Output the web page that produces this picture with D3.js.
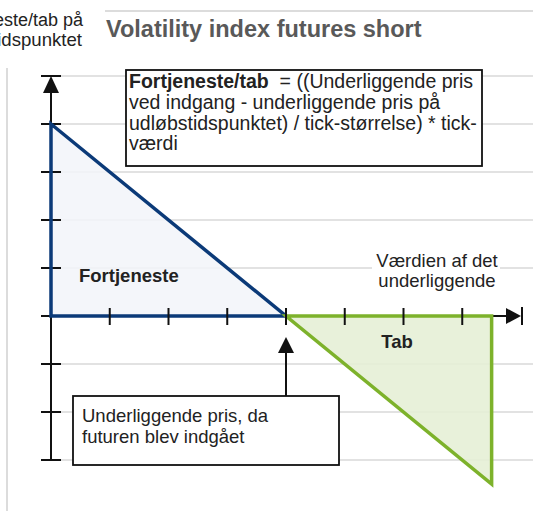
<!DOCTYPE html>
<html>
<head>
<meta charset="utf-8">
<script src="https://cdn.jsdelivr.net/npm/d3@7"></script>
<style>
body{margin:0;background:#fff;}
text{font-family:"Liberation Sans",Arial,sans-serif;fill:#222;}
</style>
</head>
<body>
<div id="chart"></div>
<script>
var w = 533;
var h = 511;

// values in chart units
var xTicks = [1,2,3,4,5,6,7];
var yTicks = [-3,-2,-1,0,1,2,3,4,5];
var gridValues = [-3,-2,-1,1,2,3,4,5];
var profitPts = [[0,4],[4,0],[0,0]];
var lossPts = [[4,0],[7.5,0],[7.5,-3.5]];
var entryPrice = 4;

var title = "Volatility index futures short";
var yLabel = ["Fortjeneste/tab på","udløbstidspunktet"];
var xLabel = ["Værdien af det","underliggende"];
var formulaBold = "Fortjeneste/tab";
var formulaLines = ["  = ((Underliggende pris","ved indgang - underliggende pris på","udløbstidspunktet) / tick-størrelse) * tick-","værdi"];
var calloutLines = ["Underliggende pris, da","futuren blev indgået"];

var xScale = d3.scaleLinear().domain([0,8]).range([51,521]);
var yScale = d3.scaleLinear().domain([-3,5]).range([460,76]);

var svg = d3.select("#chart").append("svg")
  .attr("width", w)
  .attr("height", h);

// frame lines
svg.append("line").attr("x1",7).attr("x2",7).attr("y1",68).attr("y2",h)
  .attr("stroke","#dcdcdc").attr("stroke-width",2);
svg.append("line").attr("x1",105).attr("x2",w).attr("y1",11).attr("y2",11)
  .attr("stroke","#dcdcdc").attr("stroke-width",2);

// grid
svg.selectAll(".grid").data(gridValues).enter().append("line")
  .attr("class","grid")
  .attr("x1", xScale(0)).attr("x2", w)
  .attr("y1", function(d){return yScale(d);})
  .attr("y2", function(d){return yScale(d);})
  .attr("stroke","#d9d9d9").attr("stroke-width",1.6);

// title + y label
svg.append("text").attr("x",106).attr("y",37)
  .style("font-size","23.5px").style("font-weight","bold").style("fill","#595959")
  .text(title);

svg.selectAll(".ylab").data(yLabel).enter().append("text")
  .attr("class","ylab")
  .attr("x",function(d,i){return i ? 82 : 83;})
  .attr("y",function(d,i){return 26+i*20;})
  .attr("text-anchor","end")
  .style("font-size",function(d,i){return i ? "18.6px" : "18px";})
  .text(function(d){return d;});

// payoff areas
var line = d3.line()
  .x(function(d){return xScale(d[0]);})
  .y(function(d){return yScale(d[1]);});

svg.append("path").datum(profitPts)
  .attr("d", function(d){return line(d)+"Z";})
  .attr("fill","#f2f4f9").attr("fill-opacity",0.85)
  .attr("stroke","none");
svg.append("path").datum(lossPts)
  .attr("d", function(d){return line(d)+"Z";})
  .attr("fill","#e6efd6").attr("fill-opacity",0.9)
  .attr("stroke","none");

// axes
var axisColor = "#111";
svg.append("line")
  .attr("x1",xScale(0)).attr("x2",xScale(0))
  .attr("y1",yScale(-3)).attr("y2",yScale(5)+14)
  .attr("stroke",axisColor).attr("stroke-width",2);
svg.append("line")
  .attr("x1",xScale(0)).attr("x2",xScale(8)-14)
  .attr("y1",yScale(0)).attr("y2",yScale(0))
  .attr("stroke",axisColor).attr("stroke-width",2);

svg.selectAll(".ytick").data(yTicks).enter().append("line")
  .attr("class","ytick")
  .attr("x1",xScale(0)-10).attr("x2",xScale(0)+10)
  .attr("y1",function(d){return yScale(d);})
  .attr("y2",function(d){return yScale(d);})
  .attr("stroke",axisColor).attr("stroke-width",2);

// y arrow
var ax = xScale(0), ay = yScale(5);
svg.append("path")
  .attr("d","M"+ax+","+ay+"L"+(ax-8)+","+(ay+17)+"L"+(ax+8)+","+(ay+17)+"Z")
  .attr("fill",axisColor);
// x arrow
var bx = xScale(8), by = yScale(0);
svg.append("path")
  .attr("d","M"+bx+","+by+"L"+(bx-15)+","+(by-8)+"L"+(bx-15)+","+(by+8)+"Z")
  .attr("fill",axisColor);
svg.append("line")
  .attr("x1",bx+1).attr("x2",bx+1).attr("y1",by-9).attr("y2",by+9)
  .attr("stroke",axisColor).attr("stroke-width",2);

// payoff outlines
svg.append("path").datum(profitPts)
  .attr("d", function(d){return line(d)+"Z";})
  .attr("fill","none").attr("stroke","#0b3a78").attr("stroke-width",3.5)
  .attr("stroke-linejoin","miter");
svg.append("path").datum(lossPts)
  .attr("d", function(d){return line(d)+"Z";})
  .attr("fill","none").attr("stroke","#7db22b").attr("stroke-width",3.5)
  .attr("stroke-linejoin","miter");

svg.selectAll(".xtick").data(xTicks).enter().append("line")
  .attr("class","xtick")
  .attr("x1",function(d){return xScale(d);})
  .attr("x2",function(d){return xScale(d);})
  .attr("y1",yScale(0)-8).attr("y2",yScale(0)+9)
  .attr("stroke",axisColor).attr("stroke-width",2);

// area labels
svg.append("text").attr("x",79).attr("y",282)
  .style("font-size","18.5px").style("font-weight","bold")
  .text("Fortjeneste");
svg.append("text").attr("x",397).attr("y",348)
  .attr("text-anchor","middle")
  .style("font-size","18.5px").style("font-weight","bold")
  .text("Tab");

// x label with white backing
svg.append("rect").attr("x",372).attr("y",250).attr("width",128).attr("height",22)
  .attr("fill","#fff");
svg.selectAll(".xlab").data(xLabel).enter().append("text")
  .attr("class","xlab")
  .attr("x",437).attr("y",function(d,i){return 267+i*20;})
  .attr("text-anchor","middle")
  .style("font-size","18.5px")
  .text(function(d){return d;});

// formula box
svg.append("rect").attr("x",126).attr("y",70).attr("width",356).attr("height",96)
  .attr("fill","#fff").attr("stroke","#111").attr("stroke-width",1.8);
var ft = svg.append("text").attr("x",129).attr("y",88)
  .style("font-size","19.5px").attr("xml:space","preserve").style("white-space","pre");
ft.append("tspan").style("font-weight","bold").text(formulaBold);
ft.append("tspan").text(formulaLines[0]);
svg.selectAll(".fl").data(formulaLines.slice(1)).enter().append("text")
  .attr("class","fl")
  .attr("x",129).attr("y",function(d,i){return 109+i*20.7;})
  .style("font-size","19.5px")
  .text(function(d){return d;});

// callout
var cx = xScale(entryPrice);
svg.append("line").attr("x1",cx).attr("x2",cx).attr("y1",396).attr("y2",350)
  .attr("stroke",axisColor).attr("stroke-width",2);
svg.append("path")
  .attr("d","M"+cx+","+337+"L"+(cx-8)+","+353+"L"+(cx+8)+","+353+"Z")
  .attr("fill",axisColor);
svg.append("rect").attr("x",73).attr("y",396).attr("width",266).attr("height",69)
  .attr("fill","#fff").attr("stroke","#111").attr("stroke-width",1.8);
svg.selectAll(".cl").data(calloutLines).enter().append("text")
  .attr("class","cl")
  .attr("x",82).attr("y",function(d,i){return 422+i*21;})
  .style("font-size","18.5px")
  .text(function(d){return d;});
</script>
</body>
</html>
